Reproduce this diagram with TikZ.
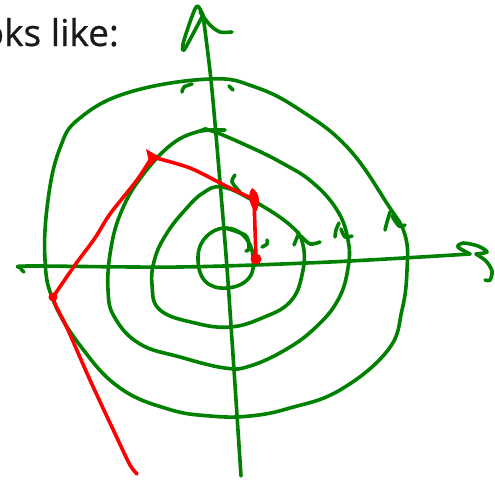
\documentclass[tikz,border=0pt]{standalone}
\usepackage{fontspec}
\newfontfamily\labelfont[FakeBold=0.6]{Open Sans}
\begin{document}
\begin{tikzpicture}[x=1pt,y=-1pt,
  ink/.style={draw=green!50!black,line width=3.6pt,line cap=round,line join=round},
  redink/.style={draw=red,line width=3.6pt,line cap=round,line join=round},
  blob/.style={fill=red}]
\useasboundingbox (0,0) rectangle (495,479);
% caption text
\node[anchor=base east,inner sep=0pt,font=\labelfont\fontsize{37}{40}\selectfont,text=black!90] (cap) at (119,46) {oks like:};
% axes
\draw[ink] plot[smooth] coordinates {(241,476) (234,370) (227,268) (219,170) (211,80) (203,15)};
\draw[ink] plot[smooth] coordinates {(203,15) (197,6) (190,22) (183,44) (184,50) (194,32) (203,15)};
\draw[ink] plot[smooth] coordinates {(200,12) (210,25) (220,32) (232,32)};
\draw[ink] plot[smooth] coordinates {(24,272) (21,268) (30,266) (180,267) (330,262) (470,254)};
\draw[ink] plot[smooth] coordinates {(470,254) (458,247) (463,243) (478,246) (487,252) (476,254)};
\draw[ink] plot[smooth] coordinates {(476,254) (486,261) (492,271) (490,280) (485,280)};
% contour 1 (inner)
\draw[ink] plot[smooth cycle,tension=0.7] coordinates {(198,257) (206,237) (225,228) (244,236) (253,256) (249,278) (227,288) (205,281)};
\draw[ink] plot[smooth] coordinates {(225,228) (235,231) (245,235) (248,240) (249,249) (246,251)};
\draw[ink] plot[smooth] coordinates {(262,247) (267,244) (267,240)};
% contour 2
\draw[ink] plot[smooth cycle,tension=0.7] coordinates {(222,187) (252,200) (290,225) (303,245) (302,275) (290,302) (262,318) (230,327) (195,323) (160,310) (152,285) (155,258) (167,233) (185,210) (203,193)};
\draw[ink] plot[smooth] coordinates {(235,175) (232,182) (240,192)};
\draw[ink] plot[smooth] coordinates {(299,233) (296,240) (294,245)};
\draw[ink] plot[smooth] coordinates {(301,236) (310,244) (320,242)};
% contour 3
\draw[ink] plot[smooth cycle,tension=0.7] coordinates {(212,131) (250,147) (282,163) (312,182) (337,210) (348,240) (348,268) (338,300) (315,328) (285,350) (250,366) (225,368) (180,357) (140,344) (115,318) (108,290) (111,248) (122,210) (142,176) (172,144) (200,131)};
\draw[ink] plot[smooth] coordinates {(200,131) (212,130) (225,130)};
\draw[ink] plot[smooth] coordinates {(339,223) (336,230) (335,237)};
\draw[ink] plot[smooth] coordinates {(341,229) (345,237) (352,236)};
% contour 4 (outer)
\draw[ink] plot[smooth cycle,tension=0.7] coordinates {(210,79) (255,87) (300,110) (348,148) (388,205) (405,235) (407,270) (402,310) (388,350) (340,390) (290,408) (250,416) (210,416) (168,409) (120,388) (82,348) (54,302) (45,260) (48,200) (60,148) (80,118) (130,92)};
\draw[ink] plot[smooth] coordinates {(182,92) (184,87) (192,84)};
\draw[ink] plot[smooth] coordinates {(229,86) (233,90)};
\draw[ink] plot[smooth] coordinates {(390,212) (387,222) (385,230)};
\draw[ink] plot[smooth] coordinates {(392,216) (399,226) (405,225)};
% red descent path
\draw[redink] plot[smooth] coordinates {(137,474) (130,465) (118,440) (90,380) (68,330) (56,306) (53,298)};
\draw[redink] plot[smooth] coordinates {(53,297) (75,265) (95,238) (110,214) (137,180) (152,157)};
\draw[redink] plot[smooth] coordinates {(152,157) (190,168) (226,186) (253,199)};
\draw[redink] (254,200) -- (256,258);
\fill[blob] (146,149) -- (160,157) -- (150,166) -- cycle;
\fill[blob] (252,188) .. controls (261,193) and (260,205) .. (256,212) .. controls (251,208) and (246,196) .. (252,188);
\fill[blob] (256,259) circle (5.5);
\fill[blob] (53,297) circle (4.5);
\end{tikzpicture}
\end{document}
